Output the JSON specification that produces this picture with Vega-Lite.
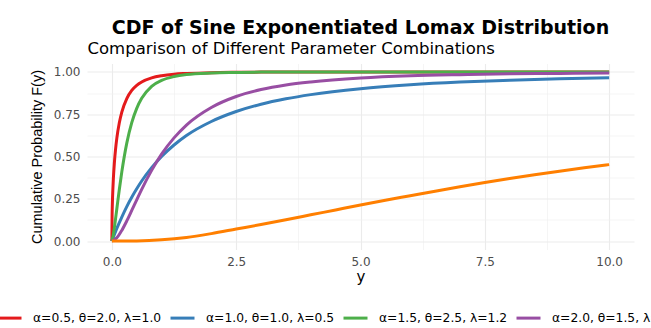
{
  "$schema": "https://vega.github.io/schema/vega-lite/v6.json",
  "width": 547,
  "height": 186,
  "autosize": {"type": "none"},
  "padding": {"left": 87, "top": 63.5, "right": 17, "bottom": 78.5},
  "background": "white",
  "title": {
    "text": "CDF of Sine Exponentiated Lomax Distribution",
    "anchor": "middle",
    "frame": "group",
    "font": "DejaVu Sans",
    "fontSize": 19,
    "fontWeight": "bold",
    "color": "black",
    "offset": 3
  },
  "config": {
    "view": {"stroke": null},
    "axis": {"labelFont": "DejaVu Sans", "titleFont": "DejaVu Sans"}
  },
  "data": {
    "values": [
      {"series": "α=0.5, θ=2.0, λ=1.0", "y": 0, "F": 0},
      {"series": "α=0.5, θ=2.0, λ=1.0", "y": 0.005, "F": 0.156},
      {"series": "α=0.5, θ=2.0, λ=1.0", "y": 0.01, "F": 0.219},
      {"series": "α=0.5, θ=2.0, λ=1.0", "y": 0.02, "F": 0.305},
      {"series": "α=0.5, θ=2.0, λ=1.0", "y": 0.03, "F": 0.368},
      {"series": "α=0.5, θ=2.0, λ=1.0", "y": 0.05, "F": 0.461},
      {"series": "α=0.5, θ=2.0, λ=1.0", "y": 0.075, "F": 0.545},
      {"series": "α=0.5, θ=2.0, λ=1.0", "y": 0.1, "F": 0.609},
      {"series": "α=0.5, θ=2.0, λ=1.0", "y": 0.15, "F": 0.7},
      {"series": "α=0.5, θ=2.0, λ=1.0", "y": 0.2, "F": 0.763},
      {"series": "α=0.5, θ=2.0, λ=1.0", "y": 0.3, "F": 0.843},
      {"series": "α=0.5, θ=2.0, λ=1.0", "y": 0.4, "F": 0.891},
      {"series": "α=0.5, θ=2.0, λ=1.0", "y": 0.5, "F": 0.921},
      {"series": "α=0.5, θ=2.0, λ=1.0", "y": 0.6, "F": 0.941},
      {"series": "α=0.5, θ=2.0, λ=1.0", "y": 0.8, "F": 0.965},
      {"series": "α=0.5, θ=2.0, λ=1.0", "y": 1.0, "F": 0.978},
      {"series": "α=0.5, θ=2.0, λ=1.0", "y": 1.25, "F": 0.987},
      {"series": "α=0.5, θ=2.0, λ=1.0", "y": 1.5, "F": 0.991},
      {"series": "α=0.5, θ=2.0, λ=1.0", "y": 2, "F": 0.996},
      {"series": "α=0.5, θ=2.0, λ=1.0", "y": 2.5, "F": 0.998},
      {"series": "α=0.5, θ=2.0, λ=1.0", "y": 3, "F": 0.999},
      {"series": "α=0.5, θ=2.0, λ=1.0", "y": 4, "F": 0.9995},
      {"series": "α=0.5, θ=2.0, λ=1.0", "y": 5, "F": 0.9998},
      {"series": "α=0.5, θ=2.0, λ=1.0", "y": 7.5, "F": 1.0},
      {"series": "α=0.5, θ=2.0, λ=1.0", "y": 10, "F": 1.0},
      {"series": "α=1.0, θ=1.0, λ=0.5", "y": 0, "F": 0},
      {"series": "α=1.0, θ=1.0, λ=0.5", "y": 0.1, "F": 0.075},
      {"series": "α=1.0, θ=1.0, λ=0.5", "y": 0.2, "F": 0.142},
      {"series": "α=1.0, θ=1.0, λ=0.5", "y": 0.3, "F": 0.204},
      {"series": "α=1.0, θ=1.0, λ=0.5", "y": 0.4, "F": 0.259},
      {"series": "α=1.0, θ=1.0, λ=0.5", "y": 0.5, "F": 0.309},
      {"series": "α=1.0, θ=1.0, λ=0.5", "y": 0.6, "F": 0.355},
      {"series": "α=1.0, θ=1.0, λ=0.5", "y": 0.8, "F": 0.434},
      {"series": "α=1.0, θ=1.0, λ=0.5", "y": 1.0, "F": 0.5},
      {"series": "α=1.0, θ=1.0, λ=0.5", "y": 1.25, "F": 0.568},
      {"series": "α=1.0, θ=1.0, λ=0.5", "y": 1.5, "F": 0.624},
      {"series": "α=1.0, θ=1.0, λ=0.5", "y": 2, "F": 0.707},
      {"series": "α=1.0, θ=1.0, λ=0.5", "y": 2.5, "F": 0.766},
      {"series": "α=1.0, θ=1.0, λ=0.5", "y": 3, "F": 0.809},
      {"series": "α=1.0, θ=1.0, λ=0.5", "y": 3.5, "F": 0.841},
      {"series": "α=1.0, θ=1.0, λ=0.5", "y": 4, "F": 0.866},
      {"series": "α=1.0, θ=1.0, λ=0.5", "y": 5, "F": 0.901},
      {"series": "α=1.0, θ=1.0, λ=0.5", "y": 6, "F": 0.924},
      {"series": "α=1.0, θ=1.0, λ=0.5", "y": 7, "F": 0.94},
      {"series": "α=1.0, θ=1.0, λ=0.5", "y": 8, "F": 0.951},
      {"series": "α=1.0, θ=1.0, λ=0.5", "y": 9, "F": 0.96},
      {"series": "α=1.0, θ=1.0, λ=0.5", "y": 10, "F": 0.966},
      {"series": "α=1.5, θ=2.5, λ=1.2", "y": 0, "F": 0},
      {"series": "α=1.5, θ=2.5, λ=1.2", "y": 0.025, "F": 0.03},
      {"series": "α=1.5, θ=2.5, λ=1.2", "y": 0.05, "F": 0.078},
      {"series": "α=1.5, θ=2.5, λ=1.2", "y": 0.1, "F": 0.191},
      {"series": "α=1.5, θ=2.5, λ=1.2", "y": 0.15, "F": 0.305},
      {"series": "α=1.5, θ=2.5, λ=1.2", "y": 0.2, "F": 0.409},
      {"series": "α=1.5, θ=2.5, λ=1.2", "y": 0.3, "F": 0.579},
      {"series": "α=1.5, θ=2.5, λ=1.2", "y": 0.4, "F": 0.7},
      {"series": "α=1.5, θ=2.5, λ=1.2", "y": 0.5, "F": 0.785},
      {"series": "α=1.5, θ=2.5, λ=1.2", "y": 0.6, "F": 0.844},
      {"series": "α=1.5, θ=2.5, λ=1.2", "y": 0.8, "F": 0.915},
      {"series": "α=1.5, θ=2.5, λ=1.2", "y": 1.0, "F": 0.95},
      {"series": "α=1.5, θ=2.5, λ=1.2", "y": 1.25, "F": 0.973},
      {"series": "α=1.5, θ=2.5, λ=1.2", "y": 1.5, "F": 0.985},
      {"series": "α=1.5, θ=2.5, λ=1.2", "y": 2, "F": 0.994},
      {"series": "α=1.5, θ=2.5, λ=1.2", "y": 2.5, "F": 0.997},
      {"series": "α=1.5, θ=2.5, λ=1.2", "y": 3, "F": 0.999},
      {"series": "α=1.5, θ=2.5, λ=1.2", "y": 4, "F": 0.9996},
      {"series": "α=1.5, θ=2.5, λ=1.2", "y": 5, "F": 0.9998},
      {"series": "α=1.5, θ=2.5, λ=1.2", "y": 7.5, "F": 1.0},
      {"series": "α=1.5, θ=2.5, λ=1.2", "y": 10, "F": 1.0},
      {"series": "α=2.0, θ=1.5, λ=0.8", "y": 0, "F": 0},
      {"series": "α=2.0, θ=1.5, λ=0.8", "y": 0.1, "F": 0.019},
      {"series": "α=2.0, θ=1.5, λ=0.8", "y": 0.2, "F": 0.063},
      {"series": "α=2.0, θ=1.5, λ=0.8", "y": 0.3, "F": 0.119},
      {"series": "α=2.0, θ=1.5, λ=0.8", "y": 0.4, "F": 0.181},
      {"series": "α=2.0, θ=1.5, λ=0.8", "y": 0.5, "F": 0.244},
      {"series": "α=2.0, θ=1.5, λ=0.8", "y": 0.6, "F": 0.306},
      {"series": "α=2.0, θ=1.5, λ=0.8", "y": 0.8, "F": 0.418},
      {"series": "α=2.0, θ=1.5, λ=0.8", "y": 1.0, "F": 0.514},
      {"series": "α=2.0, θ=1.5, λ=0.8", "y": 1.25, "F": 0.61},
      {"series": "α=2.0, θ=1.5, λ=0.8", "y": 1.5, "F": 0.686},
      {"series": "α=2.0, θ=1.5, λ=0.8", "y": 2, "F": 0.79},
      {"series": "α=2.0, θ=1.5, λ=0.8", "y": 2.5, "F": 0.855},
      {"series": "α=2.0, θ=1.5, λ=0.8", "y": 3, "F": 0.896},
      {"series": "α=2.0, θ=1.5, λ=0.8", "y": 3.5, "F": 0.923},
      {"series": "α=2.0, θ=1.5, λ=0.8", "y": 4, "F": 0.941},
      {"series": "α=2.0, θ=1.5, λ=0.8", "y": 5, "F": 0.964},
      {"series": "α=2.0, θ=1.5, λ=0.8", "y": 6, "F": 0.977},
      {"series": "α=2.0, θ=1.5, λ=0.8", "y": 7, "F": 0.984},
      {"series": "α=2.0, θ=1.5, λ=0.8", "y": 8, "F": 0.989},
      {"series": "α=2.0, θ=1.5, λ=0.8", "y": 9, "F": 0.991},
      {"series": "α=2.0, θ=1.5, λ=0.8", "y": 10, "F": 0.994},
      {"series": "α=3.0, θ=0.5, λ=0.3", "y": 0, "F": 0},
      {"series": "α=3.0, θ=0.5, λ=0.3", "y": 0.5, "F": 0.001},
      {"series": "α=3.0, θ=0.5, λ=0.3", "y": 1, "F": 0.007},
      {"series": "α=3.0, θ=0.5, λ=0.3", "y": 1.5, "F": 0.021},
      {"series": "α=3.0, θ=0.5, λ=0.3", "y": 2, "F": 0.044},
      {"series": "α=3.0, θ=0.5, λ=0.3", "y": 2.5, "F": 0.071},
      {"series": "α=3.0, θ=0.5, λ=0.3", "y": 3, "F": 0.098},
      {"series": "α=3.0, θ=0.5, λ=0.3", "y": 3.5, "F": 0.126},
      {"series": "α=3.0, θ=0.5, λ=0.3", "y": 4, "F": 0.155},
      {"series": "α=3.0, θ=0.5, λ=0.3", "y": 4.5, "F": 0.184},
      {"series": "α=3.0, θ=0.5, λ=0.3", "y": 5, "F": 0.213},
      {"series": "α=3.0, θ=0.5, λ=0.3", "y": 5.5, "F": 0.241},
      {"series": "α=3.0, θ=0.5, λ=0.3", "y": 6, "F": 0.268},
      {"series": "α=3.0, θ=0.5, λ=0.3", "y": 6.5, "F": 0.295},
      {"series": "α=3.0, θ=0.5, λ=0.3", "y": 7, "F": 0.321},
      {"series": "α=3.0, θ=0.5, λ=0.3", "y": 7.5, "F": 0.346},
      {"series": "α=3.0, θ=0.5, λ=0.3", "y": 8, "F": 0.37},
      {"series": "α=3.0, θ=0.5, λ=0.3", "y": 8.5, "F": 0.392},
      {"series": "α=3.0, θ=0.5, λ=0.3", "y": 9, "F": 0.413},
      {"series": "α=3.0, θ=0.5, λ=0.3", "y": 9.5, "F": 0.433},
      {"series": "α=3.0, θ=0.5, λ=0.3", "y": 10, "F": 0.452}
    ]
  },
  "layer": [
    {
      "mark": {"type": "line", "strokeOpacity": 0},
      "encoding": {
        "x": {
          "field": "y", "type": "quantitative",
          "scale": {"domain": [-0.5, 10.5], "nice": false, "zero": false},
          "axis": {
            "orient": "top", "values": [1.25, 3.75, 6.25, 8.75],
            "grid": true, "gridColor": "#F0F0F0", "gridWidth": 0.7,
            "labels": false, "ticks": false, "domain": false,
            "title": "Comparison of Different Parameter Combinations",
            "titleAnchor": "start", "titleAlign": "left", "titleX": 0, "titleY": -10,
            "titleBaseline": "alphabetic",
            "titleFontSize": 16.5, "titleFontWeight": "normal", "titleColor": "black"
          }
        },
        "y": {
          "field": "F", "type": "quantitative",
          "scale": {"domain": [-0.05, 1.05], "nice": false, "zero": false},
          "axis": {
            "orient": "right", "values": [0.125, 0.375, 0.625, 0.875],
            "grid": true, "gridColor": "#F0F0F0", "gridWidth": 0.7,
            "labels": false, "ticks": false, "domain": false, "title": null
          }
        },
        "detail": {"field": "series"}
      }
    },
    {
      "mark": {"type": "line", "strokeWidth": 3, "interpolate": "monotone"},
      "encoding": {
        "x": {
          "field": "y", "type": "quantitative",
          "axis": {
            "orient": "bottom", "values": [0, 2.5, 5, 7.5, 10], "format": ".1f",
            "grid": true, "gridColor": "#EBEBEB", "gridWidth": 1.1,
            "ticks": false, "domain": false,
            "labelFontSize": 12, "labelColor": "#4D4D4D", "labelPadding": 7,
            "title": "y", "titleFontSize": 15, "titleFontWeight": "normal", "titleColor": "black", "titlePadding": 2
          }
        },
        "y": {
          "field": "F", "type": "quantitative",
          "axis": {
            "orient": "left", "values": [0, 0.25, 0.5, 0.75, 1], "format": ".2f",
            "grid": true, "gridColor": "#EBEBEB", "gridWidth": 1.1,
            "ticks": false, "domain": false,
            "labelFontSize": 12, "labelColor": "#4D4D4D", "labelPadding": 7,
            "title": "Cumulative Probability F(y)", "titleFont": "Liberation Sans",
            "titleFontSize": 14.5, "titleFontWeight": "normal", "titleColor": "black", "titlePadding": 9
          }
        },
        "color": {
          "field": "series", "type": "nominal",
          "scale": {
            "domain": ["α=0.5, θ=2.0, λ=1.0", "α=1.0, θ=1.0, λ=0.5", "α=1.5, θ=2.5, λ=1.2", "α=2.0, θ=1.5, λ=0.8", "α=3.0, θ=0.5, λ=0.3"],
            "range": ["#E41A1C", "#377EB8", "#4DAF4A", "#984EA3", "#FF7F00"]
          },
          "legend": {
            "orient": "none", "legendX": -91, "legendY": 241,
            "direction": "horizontal", "columns": 5, "title": null,
            "symbolType": "stroke", "symbolSize": 576, "symbolStrokeWidth": 3,
            "labelFont": "DejaVu Sans", "labelFontSize": 12.3, "labelColor": "black",
            "labelOffset": 10, "columnPadding": 2, "labelLimit": 0
          }
        }
      }
    }
  ],
  "resolve": {"axis": {"x": "independent", "y": "independent"}}
}
